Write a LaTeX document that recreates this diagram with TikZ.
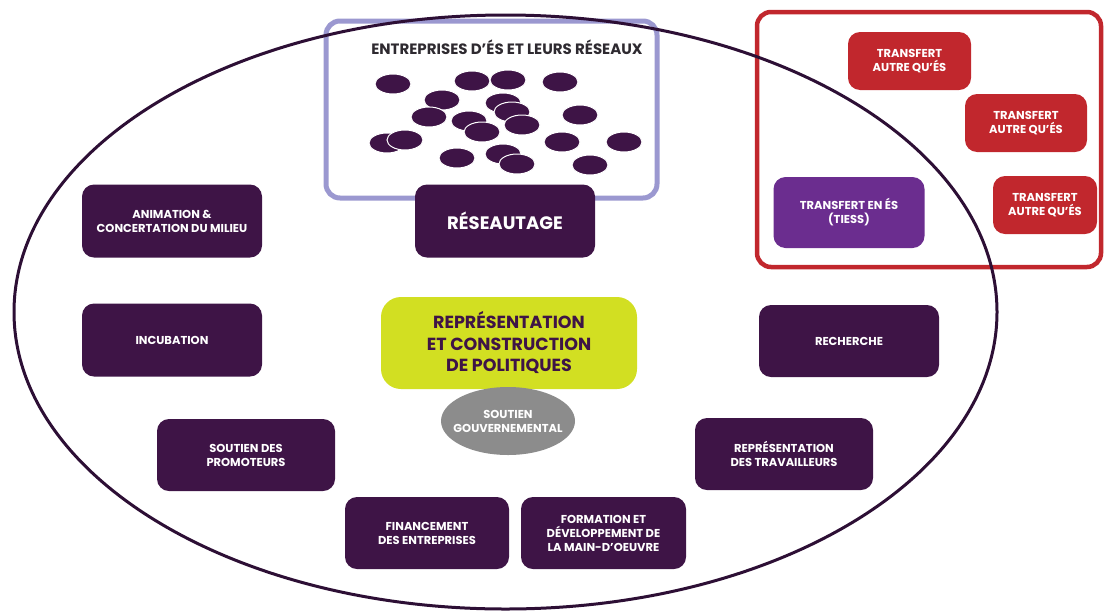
\documentclass[tikz,border=0pt]{standalone}
\usepackage{fontspec}
\setmainfont{Poppins}
\usetikzlibrary{shapes.geometric}
\definecolor{dpurple}{HTML}{3E1446}
\definecolor{eline}{HTML}{2D0F35}
\definecolor{tred}{HTML}{C1272D}
\definecolor{tpurple}{HTML}{6B2D8F}
\definecolor{lav}{HTML}{9B98D0}
\definecolor{ygreen}{HTML}{D2DF22}
\definecolor{gouvgray}{HTML}{8C8C8C}
\definecolor{titlegray}{HTML}{2E2A30}
\tikzset{
  box/.style={rectangle, rounded corners=12pt, fill=dpurple, text=white, align=center,
    font=\fontsize{11.5}{14}\selectfont\bfseries, inner sep=2pt},
  redbox/.style={box, fill=tred},
  dot/.style={fill=dpurple, draw=white, line width=1pt}
}
\begin{document}
\begin{tikzpicture}[x=1pt,y=-1pt]
\useasboundingbox (0,0) rectangle (1105,611);
% frames
\draw[lav, line width=5pt, rounded corners=14pt] (326,21) rectangle (657,198);
\draw[tred, line width=4.5pt, rounded corners=14pt] (757,12) rectangle (1101,267);
% big ellipse
\draw[eline, line width=3pt] (505.5,312) ellipse [x radius=491.5, y radius=297];
% title
\node[text=titlegray, font=\fontsize{15}{18}\selectfont\bfseries] (title) at (507,47) {ENTREPRISES D'ÉS ET LEURS RÉSEAUX};
% small ellipses
\foreach \p in {(393,84),(472,81),(508,80),(560,82),(442,100),(503,103),(512,112),(522,125),
  (429,117),(469,121),(482,132),(580,115),(387,143),(405,140),(562,142),(624,142),
  (457,158),(503,154),(517,164),(590,165)}
  \filldraw[dot] \p ellipse [x radius=18, y radius=10];
% nodes
\node[box, minimum width=180pt, minimum height=73pt, font=\fontsize{18}{21}\selectfont\bfseries] (reseau) at (505,221) {RÉSEAUTAGE};
\node[box, minimum width=180pt, minimum height=73pt] (anim) at (172,221) {ANIMATION \&\\CONCERTATION DU MILIEU};
\node[box, minimum width=180pt, minimum height=73pt] (incub) at (172,340) {INCUBATION};
\node[box, minimum width=178pt, minimum height=72pt] (promo) at (246,455) {SOUTIEN DES\\PROMOTEURS};
\node[box, minimum width=164pt, minimum height=72pt] (fin) at (427,533) {FINANCEMENT\\DES ENTREPRISES};
\node[box, minimum width=165pt, minimum height=72pt] (form) at (603.5,533) {FORMATION ET\\DÉVELOPPEMENT DE\\LA MAIN-D'OEUVRE};
\node[box, minimum width=178pt, minimum height=72pt] (trav) at (784,454) {REPRÉSENTATION\\DES TRAVAILLEURS};
\node[box, minimum width=180pt, minimum height=72pt] (rech) at (849,341) {RECHERCHE};
\node[box, fill=ygreen, text=dpurple, rounded corners=20pt, minimum width=256pt, minimum height=92pt,
  font=\fontsize{17.5}{21.5}\selectfont\bfseries] (pol) at (509,343) {REPRÉSENTATION\\ET CONSTRUCTION\\DE POLITIQUES};
\node[ellipse, fill=gouvgray, minimum width=134pt, minimum height=68pt, inner sep=0pt] (gouv) at (508,421) {};
\node[text=white, align=center, inner sep=0pt, font=\fontsize{11.5}{14}\selectfont\bfseries] (gouvtext) at (gouv.center) {SOUTIEN\\GOUVERNEMENTAL};
% transfer nodes
\node[redbox, minimum width=123pt, minimum height=58pt] (t1) at (909.5,61) {TRANSFERT\\AUTRE QU'ÉS};
\node[redbox, minimum width=122pt, minimum height=58pt] (t2) at (1026,123) {TRANSFERT\\AUTRE QU'ÉS};
\node[redbox, minimum width=104pt, minimum height=58pt] (t3) at (1045,205) {TRANSFERT\\AUTRE QU'ÉS};
\node[box, fill=tpurple, minimum width=151pt, minimum height=71pt] (tiess) at (849,212.5) {TRANSFERT EN ÉS\\(TIESS)};
\end{tikzpicture}
\end{document}
